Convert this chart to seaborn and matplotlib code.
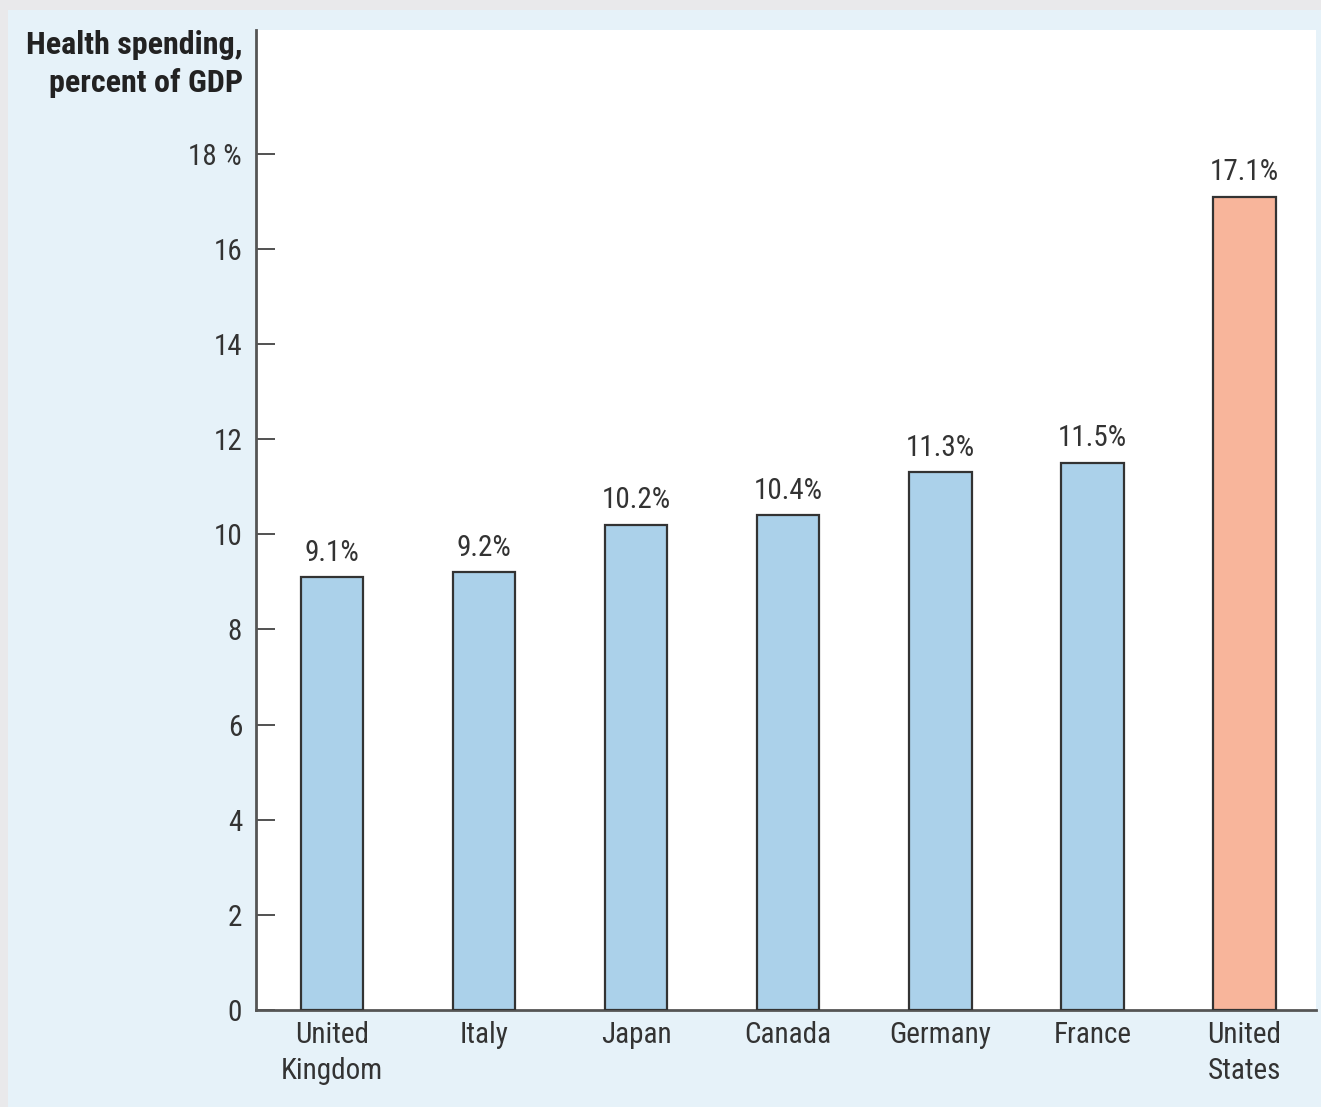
import matplotlib
matplotlib.use("Agg")
import matplotlib.pyplot as plt
import seaborn as sns
import pandas as pd
from matplotlib.patches import Rectangle

countries = ["United\nKingdom", "Italy", "Japan", "Canada", "Germany", "France", "United\nStates"]
values = [9.1, 9.2, 10.2, 10.4, 11.3, 11.5, 17.1]
value_labels = ["9.1%", "9.2%", "10.2%", "10.4%", "11.3%", "11.5%", "17.1%"]
bar_colors = ["#abd1ea"] * 6 + ["#f8b59b"]
yticks = [0, 2, 4, 6, 8, 10, 12, 14, 16, 18]
ytick_labels = ["0", "2", "4", "6", "8", "10", "12", "14", "16", "18 %"]

sns.set_theme(style="white")
plt.rcParams["font.family"] = ["Liberation Sans Narrow", "Roboto Condensed", "DejaVu Sans"]

df = pd.DataFrame({"country": countries, "value": values})

W, H = 1321, 1107
fig = plt.figure(figsize=(W / 100, H / 100), dpi=100)
fig.patch.set_facecolor("#e9e9eb")
fig.patches.append(Rectangle((8 / W, 0), 1 - 8 / W, 1 - 10 / H, transform=fig.transFigure,
                             facecolor="#e6f2f9", edgecolor="none", zorder=-5))

ax = fig.add_axes([256 / W, (H - 1010) / H, (1316 - 256) / W, (1010 - 30) / H])
ax.set_zorder(1)
ax.set_facecolor("white")

sns.barplot(data=df, x="country", y="value", hue="country", palette=bar_colors,
            saturation=1, legend=False, width=0.41, edgecolor="#333333", linewidth=1.6,
            ax=ax, zorder=3)

for i, (v, lab) in enumerate(zip(values, value_labels)):
    ax.text(i, v + 0.22, lab, ha="center", va="bottom", fontsize=21, color="#333333")

ax.set_xlim(-0.5, 6.47)
ax.set_ylim(0, 20.6)
ax.set_yticks(yticks)
ax.set_yticklabels(ytick_labels, fontsize=21, color="#333333")
ax.tick_params(axis="y", direction="in", length=14, width=1.2, color="#333333", pad=10, left=True)
ax.tick_params(axis="x", length=0, pad=8, labelsize=21, labelcolor="#333333")
for t in ax.get_xticklabels():
    t.set_linespacing(1.35)
ax.set_xlabel("")
ax.set_ylabel("")

for s in ["top", "right"]:
    ax.spines[s].set_visible(False)
for s in ["left", "bottom"]:
    ax.spines[s].set_color("#555555")
    ax.spines[s].set_linewidth(2)

fig.text(243 / W, 1 - 64 / H, "Health spending,\npercent of GDP", ha="right", va="center",
         fontsize=23, fontweight="bold", color="#222222", linespacing=1.3)

fig.savefig("out.png", dpi=100)
